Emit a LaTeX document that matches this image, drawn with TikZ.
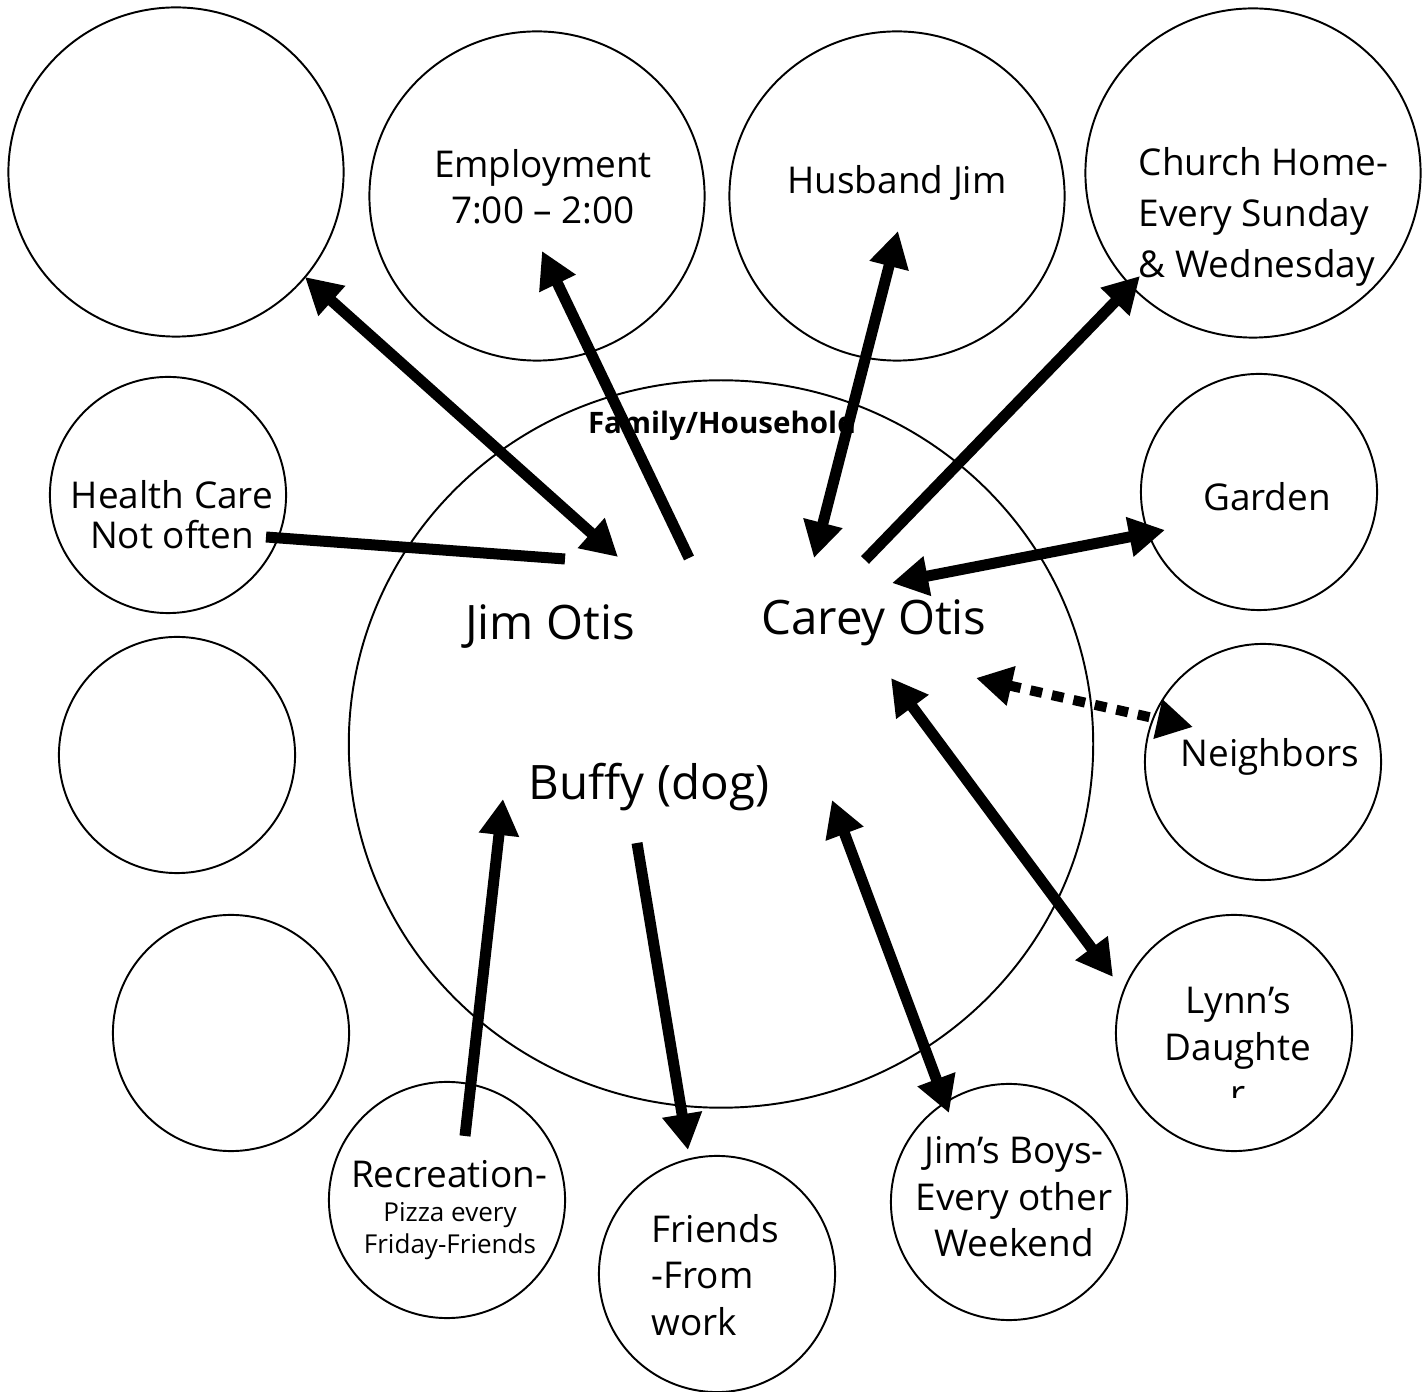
\documentclass[tikz,border=0pt]{standalone}
\usepackage{fontspec}
\setmainfont{Open Sans}
\usetikzlibrary{shapes.geometric,arrows.meta}

\tikzset{
  bigring/.style={draw, ellipse, line width=0.55pt, minimum width=3.35cm, minimum height=3.29cm, inner sep=0pt},
  ring/.style={draw, circle, line width=0.55pt, minimum size=2.36cm, inner sep=0pt},
  txt/.style={align=center, inner sep=0pt, font=\fontsize{10.5}{13.2}\selectfont},
  who/.style={inner sep=0pt, font=\fontsize{13.5}{16}\selectfont},
  oneway/.style={line width=0.11cm, -{Triangle[length=0.36cm,width=0.38cm]}},
  twoway/.style={line width=0.11cm, {Triangle[length=0.36cm,width=0.38cm]}-{Triangle[length=0.36cm,width=0.38cm]}},
}

\begin{document}
\begin{tikzpicture}[x=0.01cm,y=-0.01cm]
    \fill [white] (0,0) rectangle (1427,1392);
    \useasboundingbox (0,0) rectangle (1427,1392);
    % outer circles
    \node [bigring] (blank) at (176,172) {};
    \node [bigring] (work) at (537,196) {};
    \node [bigring] (husband) at (897,196) {};
    \node [bigring] (church) at (1253,173) {};
    \node [ring] (health) at (168,495) {};
    \node [ring] (blankb) at (177,755) {};
    \node [ring] (blankc) at (231,1033) {};
    \node [ring] (fun) at (447,1200) {};
    \node [ring] (friends) at (717,1274) {};
    \node [ring] (boys) at (1009,1202) {};
    \node [ring] (lynn) at (1234,1033) {};
    \node [ring] (neighbors) at (1263,762) {};
    \node [ring] (garden) at (1259,492) {};
    % household
    \node [draw, ellipse, line width=0.55pt, minimum width=7.44cm, minimum height=7.27cm, inner sep=0pt] (home) at (721,744) {};
    \node [font=\bfseries\fontsize{8.4}{10}\selectfont, inner sep=0pt] (homename) at (722,426) {Family/Household};
    \node [who] (jim) at (550,627) {Jim Otis};
    \node [who] (carey) at (874,623) {Carey Otis};
    \node [who] (buffy) at (649,787) {Buffy (dog)};
    % texts in the circles
    \node [txt] (worktxt) at (543,187) {Employment\\7:00 – 2:00};
    \node [txt] (husbandtxt) at (897,183) {Husband Jim};
    \node [txt, align=left, anchor=west, font=\fontsize{10.5}{14.6}\selectfont] (churchtxt) at (1138,217) {Church Home-\\Every Sunday\\\& Wednesday};
    \node [txt, font=\fontsize{10.5}{11.4}\selectfont] (healthtxt) at (172,515) {Health Care\\Not often};
    \node [txt] (gardentxt) at (1267,497) {Garden};
    \node [txt] (neighborstxt) at (1270,757) {Neighbors};
    \begin{scope}
        \clip (1100,950) rectangle (1380,1098);
        \node [txt] (lynntxt) at (1238,1047) {Lynn’s\\Daughte\\r};
    \end{scope}
    \node [txt] (boystxt) at (1014,1197) {Jim’s Boys-\\Every other\\Weekend};
    \node [txt, align=left, anchor=west] (friendstxt) at (651,1275) {Friends\\-From\\work};
    \node [txt] (funtxt) at (449,1174) {Recreation-};
    \node [txt, font=\fontsize{7.4}{9.1}\selectfont] (pizzatxt) at (450,1231) {Pizza every\\Friday-Friends};
    % arrow ends
    \coordinate (blankend) at (305,277);
    \coordinate (jima) at (618,557);
    \coordinate (workend) at (542,251);
    \coordinate (jimb) at (689,558);
    \coordinate (husbandend) at (898,231);
    \coordinate (careya) at (814,558);
    \coordinate (churchend) at (1140,276);
    \coordinate (careyb) at (865,560);
    \coordinate (healthend) at (266,537);
    \coordinate (jimc) at (565,559);
    \coordinate (gardenend) at (1165,530);
    \coordinate (careyc) at (892,583);
    \coordinate (neighborsend) at (1193,727);
    \coordinate (careyd) at (976,678);
    \coordinate (lynnend) at (1113,977);
    \coordinate (careye) at (891,678);
    \coordinate (boysend) at (949,1113);
    \coordinate (buffya) at (832,800);
    \coordinate (friendsend) at (688,1150);
    \coordinate (buffyb) at (637,843);
    \coordinate (funend) at (465,1136);
    \coordinate (buffyc) at (503,799);
    % arrows
    \draw [twoway] (blankend) -- (jima);
    \draw [oneway] (jimb) -- (workend);
    \draw [twoway] (careya) -- (husbandend);
    \draw [oneway] (careyb) -- (churchend);
    \draw [line width=0.11cm] (healthend) -- (jimc);
    \draw [twoway] (careyc) -- (gardenend);
    \draw [twoway, line width=0.1cm, dash pattern=on 0.12cm off 0.1cm] (careyd) -- (neighborsend);
    \draw [twoway] (careye) -- (lynnend);
    \draw [twoway] (buffya) -- (boysend);
    \draw [oneway] (buffyb) -- (friendsend);
    \draw [oneway] (funend) -- (buffyc);
\end{tikzpicture}
\end{document}
